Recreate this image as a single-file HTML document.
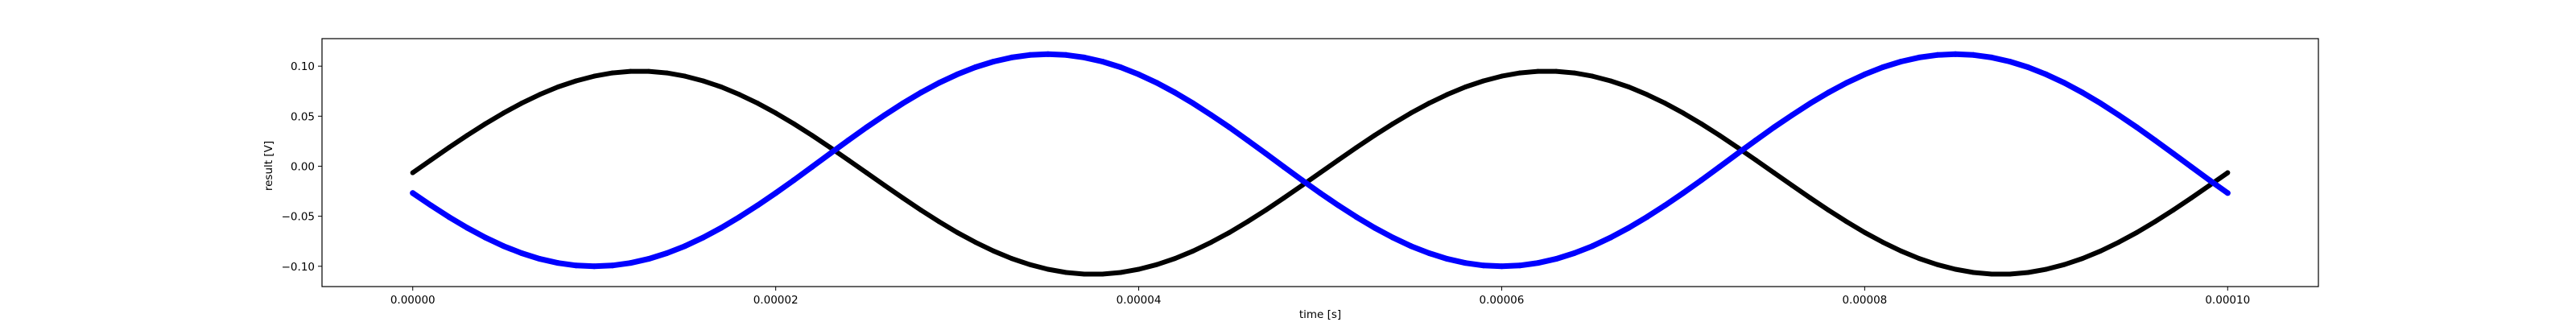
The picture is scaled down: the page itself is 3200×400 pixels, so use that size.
<!DOCTYPE html>
<html><head><meta charset="utf-8"><style>
html,body{margin:0;padding:0;background:#fff;}
svg{display:block;font-family:"DejaVu Sans","Liberation Sans",sans-serif;}
</style></head><body>
<svg id="chart" width="3200" height="400" viewBox="0 0 3200 400" xmlns="http://www.w3.org/2000/svg">
<rect x="0" y="0" width="3200" height="400" fill="#fff"/>
<g id="plot"></g>
<rect x="400" y="48" width="2480" height="308" fill="none" stroke="#000" stroke-width="1.2"/>
<g id="axes"></g>
<text x="1640" y="395" text-anchor="middle" font-size="13.5" fill="#000">time [s]</text>
<text x="0" y="0" transform="translate(338,206) rotate(-90)" text-anchor="middle" font-size="13.5" fill="#000">result [V]</text>
</svg>
<script>
const timeStep = 1e-6;
const blackSeries = [-0.0065,0.0062,0.0187,0.0309,0.0424,0.0532,0.0630,0.0717,0.0792,0.0853,0.0900,0.0932,0.0948,0.0948,0.0932,0.0900,0.0853,0.0792,0.0717,0.0630,0.0532,0.0424,0.0309,0.0187,0.0062,-0.0065,-0.0192,-0.0317,-0.0439,-0.0554,-0.0662,-0.0760,-0.0847,-0.0922,-0.0983,-0.1030,-0.1062,-0.1078,-0.1078,-0.1062,-0.1030,-0.0983,-0.0922,-0.0847,-0.0760,-0.0662,-0.0554,-0.0439,-0.0317,-0.0192,
-0.0065,0.0062,0.0187,0.0309,0.0424,0.0532,0.0630,0.0717,0.0792,0.0853,0.0900,0.0932,0.0948,0.0948,0.0932,0.0900,0.0853,0.0792,0.0717,0.0630,0.0532,0.0424,0.0309,0.0187,0.0062,-0.0065,-0.0192,-0.0317,-0.0439,-0.0554,-0.0662,-0.0760,-0.0847,-0.0922,-0.0983,-0.1030,-0.1062,-0.1078,-0.1078,-0.1062,-0.1030,-0.0983,-0.0922,-0.0847,-0.0760,-0.0662,-0.0554,-0.0439,-0.0317,-0.0192,-0.0065];
const blueSeries = [-0.0268,-0.0391,-0.0508,-0.0616,-0.0713,-0.0798,-0.0869,-0.0926,-0.0967,-0.0992,-0.1000,
-0.0992,-0.0967,-0.0926,-0.0869,-0.0798,-0.0713,-0.0616,-0.0508,-0.0391,-0.0268,-0.0139,-0.0007,0.0127,0.0259,0.0388,0.0511,0.0628,0.0736,0.0833,0.0918,0.0989,0.1046,0.1087,0.1112,0.1120,
0.1112,0.1087,0.1046,0.0989,0.0918,0.0833,0.0736,0.0628,0.0511,0.0388,0.0259,0.0127,-0.0007,-0.0139,-0.0268,-0.0391,-0.0508,-0.0616,-0.0713,-0.0798,-0.0869,-0.0926,-0.0967,-0.0992,-0.1000,
-0.0992,-0.0967,-0.0926,-0.0869,-0.0798,-0.0713,-0.0616,-0.0508,-0.0391,-0.0268,-0.0139,-0.0007,0.0127,0.0259,0.0388,0.0511,0.0628,0.0736,0.0833,0.0918,0.0989,0.1046,0.1087,0.1112,0.1120,
0.1112,0.1087,0.1046,0.0989,0.0918,0.0833,0.0736,0.0628,0.0511,0.0388,0.0259,0.0127,-0.0007,-0.0139,-0.0268];
const xTicks = [0, 2e-5, 4e-5, 6e-5, 8e-5, 1e-4];
const xTickLabels = ["0.00000","0.00002","0.00004","0.00006","0.00008","0.00010"];
const yTicks = [-0.10, -0.05, 0, 0.05, 0.10];
const yTickLabels = ["\u22120.10","\u22120.05","0.00","0.05","0.10"];

const NS = "http://www.w3.org/2000/svg";
const X0 = 400, X1 = 2880, Y0 = 48, Y1 = 356;
const xMin = -0.5e-5, xMax = 1.05e-4, yMin = -0.1203, yMax = 0.1275;
function sx(v){ return X0 + (v - xMin) / (xMax - xMin) * (X1 - X0); }
function sy(v){ return Y1 - (v - yMin) / (yMax - yMin) * (Y1 - Y0); }
const plot = document.getElementById('plot');
const axes = document.getElementById('axes');

function drawSeries(vals, color, lw, r, name){
  const g = document.createElementNS(NS,'g');
  
  
  const pts = vals.map((v,i)=> sx(i*timeStep).toFixed(1)+','+sy(v).toFixed(1)).join(' ');
  const pl = document.createElementNS(NS,'polyline');
  pl.setAttribute('points', pts);
  pl.setAttribute('fill','none');
  pl.setAttribute('stroke',color);
  pl.setAttribute('stroke-width',lw);
  pl.setAttribute('stroke-linecap','round');
  pl.setAttribute('stroke-linejoin','round');
  
  
  g.appendChild(pl);
  vals.forEach((v,i)=>{
    const c = document.createElementNS(NS,'circle');
    c.setAttribute('cx', sx(i*timeStep));
    c.setAttribute('cy', sy(v));
    c.setAttribute('r', r);
    c.setAttribute('fill', color);
    
    
    g.appendChild(c);
  });
  plot.appendChild(g);
}
drawSeries(blackSeries, '#000', 6, 3, 'black-series');
drawSeries(blueSeries, '#0000ff', 7, 3.5, 'blue-series');

xTicks.forEach((t,i)=>{
  const x = sx(t);
  const l = document.createElementNS(NS,'line');
  l.setAttribute('x1',x); l.setAttribute('x2',x);
  l.setAttribute('y1',Y1); l.setAttribute('y2',Y1+5);
  l.setAttribute('stroke','#000'); l.setAttribute('stroke-width','1');
  
  
  axes.appendChild(l);
  const tx = document.createElementNS(NS,'text');
  tx.setAttribute('x',x); tx.setAttribute('y',Y1+21);
  tx.setAttribute('text-anchor','middle'); tx.setAttribute('font-size','13.5');
  tx.textContent = xTickLabels[i];
  
  
  axes.appendChild(tx);
});
yTicks.forEach((t,i)=>{
  const y = sy(t);
  const l = document.createElementNS(NS,'line');
  l.setAttribute('x1',X0-5); l.setAttribute('x2',X0);
  l.setAttribute('y1',y); l.setAttribute('y2',y);
  l.setAttribute('stroke','#000'); l.setAttribute('stroke-width','1');
  
  
  axes.appendChild(l);
  const tx = document.createElementNS(NS,'text');
  tx.setAttribute('x',X0-9); tx.setAttribute('y',y+5);
  tx.setAttribute('text-anchor','end'); tx.setAttribute('font-size','13.5');
  tx.textContent = yTickLabels[i];
  
  
  axes.appendChild(tx);
});
</script>
</body></html>
